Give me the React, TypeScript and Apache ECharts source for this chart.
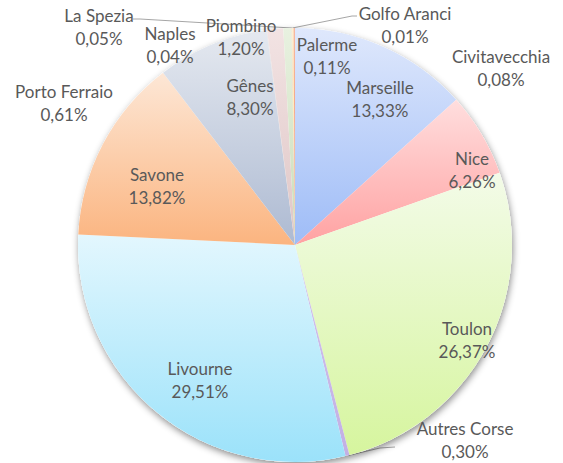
import React, { useEffect, useRef } from "react";
import * as echarts from "echarts";

// ---- data ----
const ports = [
  "Marseille", "Nice", "Toulon", "Autres Corse", "Livourne", "Savone", "Gênes",
  "Naples", "Piombino", "Porto Ferraio", "La Spezia", "Golfo Aranci", "Civitavecchia", "Palerme",
];
const shares = [13.33, 6.26, 26.37, 0.30, 29.51, 13.82, 8.30, 0.04, 1.20, 0.61, 0.05, 0.01, 0.08, 0.11];

// ---- styles / layout ----
const gradients: Record<string, [string, string]> = {
  "Marseille": ["#dfe8fc", "#9ebcf7"],
  "Nice": ["#ffdede", "#ffa2a2"],
  "Toulon": ["#f3fbe8", "#d6f59e"],
  "Autres Corse": ["#d2c4ec", "#c2b0e4"],
  "Livourne": ["#e3f7fe", "#9be2fa"],
  "Savone": ["#fde7d6", "#fbb47f"],
  "Gênes": ["#e5e9f0", "#adbad2"],
  "Naples": ["#e0e0e0", "#c8c8c8"],
  "Piombino": ["#f2e3e3", "#dfc6c6"],
  "Porto Ferraio": ["#e8f1e0", "#c9ddb8"],
  "La Spezia": ["#f8d8c4", "#f0b894"],
  "Golfo Aranci": ["#d6ead0", "#b8d9a8"],
  "Civitavecchia": ["#fff0c0", "#ffe08a"],
  "Palerme": ["#f7b9a0", "#ef8d6d"],
};

const CX = 295;
const CY = 245;
const R = 217;

const labelPos: Record<string, [number, number]> = {
  "Marseille": [380, 99],
  "Nice": [472, 170],
  "Toulon": [467, 340],
  "Autres Corse": [465, 440],
  "Livourne": [200, 380],
  "Savone": [157, 186],
  "Gênes": [250, 97],
  "Naples": [170, 45],
  "Piombino": [241, 37],
  "Porto Ferraio": [64, 103],
  "La Spezia": [99, 27],
  "Golfo Aranci": [405, 25],
  "Civitavecchia": [501, 68],
  "Palerme": [327, 56],
};

const leaderElbows: Record<string, [[number, number], [number, number]]> = {
  "La Spezia": [[140, 19], [133, 19]],
  "Golfo Aranci": [[352, 16], [357, 16]],
  "Autres Corse": [[380, 448], [395, 447]],
};

const total = shares.reduce((a, b) => a + b, 0);
function midAngleRad(i: number): number {
  let before = 0;
  for (let k = 0; k < i; k++) before += shares[k];
  const mid = before + shares[i] / 2;
  return (mid / total) * Math.PI * 2;
}

function fmt(v: number): string {
  return v.toFixed(2).replace(".", ",") + "%";
}

export default function App() {
  const ref = useRef<HTMLDivElement>(null);
  useEffect(() => {
    document.body.style.margin = "0";
    if (!ref.current) return;
    const chart = echarts.init(ref.current, undefined, { renderer: "svg" });
    const data = ports.map((name, i) => ({
      name,
      value: shares[i],
      itemStyle: {
        color: new echarts.graphic.LinearGradient(0, 0, 0, 1, [
          { offset: 0, color: gradients[name][0] },
          { offset: 1, color: gradients[name][1] },
        ]),
      },
      labelLine: { show: !!leaderElbows[name] },
    }));
    chart.setOption({
      animation: false,
      backgroundColor: "#ffffff",
      series: [
        {
          type: "pie",
          silent: true,
          center: [CX, CY],
          radius: R,
          label: { show: false },
          labelLine: { show: false },
          itemStyle: {
            color: "#ffffff",
            shadowBlur: 7,
            shadowColor: "rgba(0,0,0,0.45)",
            shadowOffsetX: 1,
            shadowOffsetY: 3,
          },
          data: [{ value: 1, name: "" }],
        },
        {
          type: "pie",
          silent: true,
          center: [CX, CY],
          radius: R,
          startAngle: 90,
          clockwise: true,
          avoidLabelOverlap: false,
          itemStyle: { borderWidth: 0 },
          label: {
            show: true,
            position: "outside",
            formatter: (p: any) => `${p.name}\n${fmt(p.value)}`,
            color: "#595959",
            fontFamily: "Lato",
            fontSize: 17,
            lineHeight: 23,
            align: "center",
          },
          labelLine: {
            show: false,
            lineStyle: { color: "#a6a6a6", width: 1 },
          },
          labelLayout: (params: any) => {
            const name = ports[params.dataIndex];
            const pos = labelPos[name];
            const out: any = {
              x: pos[0],
              y: pos[1],
              align: "center",
              verticalAlign: "middle",
            };
            const elbow = leaderElbows[name];
            if (elbow) {
              const a = midAngleRad(params.dataIndex);
              const anchor = [CX + R * Math.sin(a), CY - R * Math.cos(a)];
              out.labelLinePoints = [anchor, elbow[0], elbow[1]];
            }
            return out;
          },
          data,
        },
      ],
    });
    return () => chart.dispose();
  }, []);
  return <div ref={ref} style={{ width: 563, height: 463 }} />;
}
